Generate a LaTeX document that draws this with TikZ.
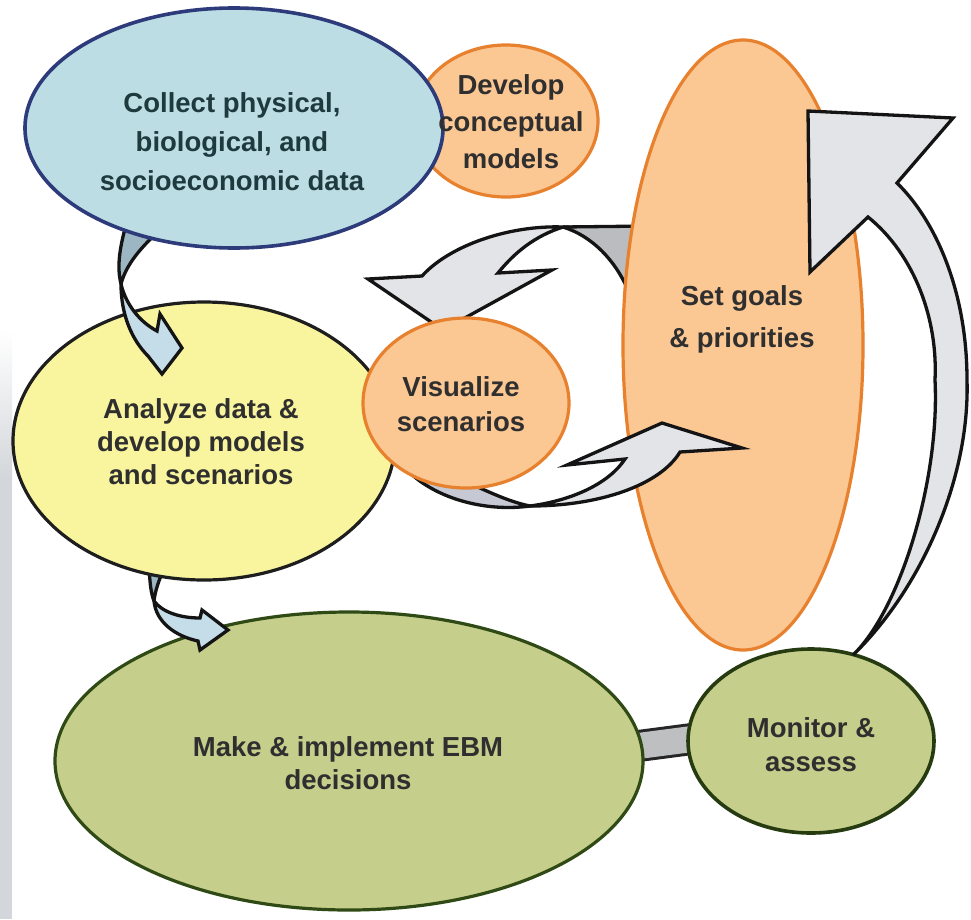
\documentclass[tikz,border=0pt]{standalone}
\usepackage{fontspec}
\setmainfont{Liberation Sans}
\usetikzlibrary{shapes.geometric}
\definecolor{bluefill}{HTML}{BCDDE3}
\definecolor{blueedge}{HTML}{2D3B7B}
\definecolor{orfill}{HTML}{FBC793}
\definecolor{oredge}{HTML}{E8812E}
\definecolor{yelfill}{HTML}{F9F49E}
\definecolor{yeledge}{HTML}{1E1E1E}
\definecolor{grnfill}{HTML}{C6CE8C}
\definecolor{grnedge}{HTML}{2F4A14}
\definecolor{arrowfill}{HTML}{E3E4E7}
\definecolor{arrowdark}{HTML}{BABCBF}
\definecolor{arrowblue}{HTML}{C4DDE9}
\definecolor{arrowbluedark}{HTML}{9DB6C4}
\definecolor{lowback}{HTML}{C6C9D4}
\definecolor{stripgray}{HTML}{D3D6DA}
\definecolor{bandgray}{HTML}{BEBFC1}
\definecolor{txt}{HTML}{2F2F2F}
\definecolor{bluetxt}{HTML}{1F3A3F}
\pgfdeclarelayer{lA}\pgfdeclarelayer{lB}\pgfdeclarelayer{lC}\pgfdeclarelayer{lD}
\pgfdeclarelayer{lE}\pgfdeclarelayer{lF}\pgfdeclarelayer{lG}\pgfdeclarelayer{lH}
\pgfdeclarelayer{lI}\pgfdeclarelayer{lJ}\pgfdeclarelayer{lK}\pgfdeclarelayer{lL}
\pgfsetlayers{lA,lB,lC,lD,lE,lF,lG,lH,lI,lJ,lK,lL,main}
\begin{document}
\begin{tikzpicture}[x=1pt,y=-1pt,
  oval/.style={ellipse, inner sep=0pt, line width=3.2pt},
  lbl/.style={font=\bfseries\fontsize{27.5}{33}\selectfont, text=txt, align=center, inner sep=0pt},
  aline/.style={draw=black!92, line width=3.3pt, line join=miter, miter limit=20},
]
\useasboundingbox (0,0) rectangle (971,919);

% ---------- ellipses (nodes) ----------
\begin{pgfonlayer}{lA}
  \fill[white] (0,0) rectangle (971,919);
  \shade[top color=white, bottom color=stripgray] (0,330) rectangle (12,480);
  \fill[stripgray] (0,480) rectangle (12,919);
  \node[oval, draw=oredge, fill=orfill, minimum width=184pt, minimum height=152pt] (develop) at (506,121) {};
\end{pgfonlayer}
\begin{pgfonlayer}{lC}
  \node[oval, draw=grnedge, fill=grnfill, minimum width=588pt, minimum height=298pt] (make) at (349,761) {};
  \node[oval, draw=grnedge!80!black, line width=3.6pt, fill=grnfill, minimum width=246pt, minimum height=184pt] (monitor) at (811,741) {};
\end{pgfonlayer}
\begin{pgfonlayer}{lE}
  \node[oval, draw=yeledge, fill=yelfill, minimum width=382pt, minimum height=278pt] (analyze) at (204,441) {};
\end{pgfonlayer}
\begin{pgfonlayer}{lG}
  \node[oval, draw=blueedge, line width=3.6pt, fill=bluefill, minimum width=418pt, minimum height=240pt] (collect) at (234,128) {};
\end{pgfonlayer}
\begin{pgfonlayer}{lI}
  \node[oval, draw=oredge, fill=orfill, minimum width=240pt, minimum height=610pt] (goals) at (743,345) {};
\end{pgfonlayer}
\begin{pgfonlayer}{lL}
  \node[oval, draw=oredge, fill=orfill, minimum width=206pt, minimum height=170pt] (visualize) at (466,403) {};
\end{pgfonlayer}

% ---------- connectors ----------
% band between make and monitor
\begin{pgfonlayer}{lB}
  \coordinate (bandA) at (600,751);
  \coordinate (bandB) at (730,734);
  \draw[line width=32pt, black!85] (bandA) -- (bandB);
  \draw[line width=26pt, bandgray] (bandA) -- (bandB);
\end{pgfonlayer}

% analyze -> make (blue curved arrow)
\begin{pgfonlayer}{lD}
  \fill[arrowbluedark] (149,566) .. controls (150,585) and (151,593) .. (154,601)
     .. controls (155,592) and (158,582) .. (165,566) -- cycle;
  \draw[aline] (149,566) .. controls (150,585) and (151,593) .. (154,601)
     (165,566) .. controls (158,582) and (155,592) .. (154,601);
  \filldraw[aline, fill=arrowblue] (154,601) .. controls (156,622) and (175,636) .. (198,641)
     -- (200,650) -- (228,630) -- (202,610) -- (200,618)
     .. controls (180,618) and (162,612) .. (154,601) -- cycle;
\end{pgfonlayer}

% collect -> analyze (blue curved arrow)
\begin{pgfonlayer}{lF}
  \fill[arrowbluedark] (126,225) .. controls (119,250) and (117,268) .. (121,284)
     .. controls (126,265) and (140,248) .. (162,228) -- cycle;
  \draw[aline] (126,225) .. controls (119,250) and (117,268) .. (121,284)
     (162,228) .. controls (140,248) and (126,265) .. (121,284);
  \filldraw[aline, fill=arrowblue] (121,284) .. controls (121,315) and (132,340) .. (148,356)
     -- (162,374) -- (182,348) -- (160,314) -- (157,331)
     .. controls (140,322) and (126,305) .. (121,284) -- cycle;
\end{pgfonlayer}

% goals -> visualize (upper gray arrow)
\begin{pgfonlayer}{lH}
  \fill[arrowdark] (563,227) -- (650,226) -- (650,300) -- (628,290)
     .. controls (615,260) and (592,236) .. (563,227) -- cycle;
  \draw[aline] (563,227) -- (650,226);
  \draw[aline] (563,227) .. controls (592,236) and (615,260) .. (628,290);
  \filldraw[aline, fill=arrowfill] (563,227) .. controls (510,225) and (450,245) .. (422,276)
     -- (368,279) -- (443,330) -- (552,270) -- (498,273)
     .. controls (515,252) and (535,236) .. (563,227) -- cycle;
\end{pgfonlayer}

% monitor -> goals (big right arrow)
\begin{pgfonlayer}{lJ}
  \filldraw[aline, fill=arrowfill] (808,111) -- (953,118) -- (897,183)
     .. controls (935,220) and (967,290) .. (967,380)
     .. controls (970,480) and (920,590) .. (853,655)
     .. controls (900,610) and (940,480) .. (935,380)
     .. controls (938,320) and (915,255) .. (868,217)
     -- (810,272) -- cycle;
\end{pgfonlayer}

% visualize -> goals (lower gray arrow)
\begin{pgfonlayer}{lK}
  \filldraw[aline, fill=lowback] (530,506) .. controls (480,513) and (420,495) .. (395,455)
     -- (470,460) -- (480,488) .. controls (500,497) and (515,503) .. (530,506) -- cycle;
\end{pgfonlayer}
\filldraw[aline, fill=arrowfill] (742,448) -- (662,423) -- (567,465) -- (625,459)
   .. controls (610,482) and (575,500) .. (530,506)
   .. controls (600,506) and (660,485) .. (680,452) -- cycle;

% ---------- texts ----------
\node[lbl, text=bluetxt, font=\bfseries\fontsize{27.5}{39}\selectfont] (collect-t) at (232,142) {Collect physical,\\biological, and\\socioeconomic data};
\node[lbl, font=\bfseries\fontsize{27.5}{37}\selectfont] (develop-t) at (511,122) {Develop\\conceptual\\models};
\node[lbl, font=\bfseries\fontsize{27.5}{42}\selectfont] (goals-t) at (742,319) {Set goals\\\& priorities};
\node[lbl, font=\bfseries\fontsize{27.5}{35}\selectfont] (visualize-t) at (461,404) {Visualize\\scenarios};
\node[lbl] (analyze-t) at (201,442) {Analyze data \&\\develop models\\and scenarios};
\node[lbl] (make-t) at (348,763) {Make \& implement EBM\\decisions};
\node[lbl, font=\bfseries\fontsize{27.5}{34}\selectfont] (monitor-t) at (811,745) {Monitor \&\\assess};
\end{tikzpicture}
\end{document}
